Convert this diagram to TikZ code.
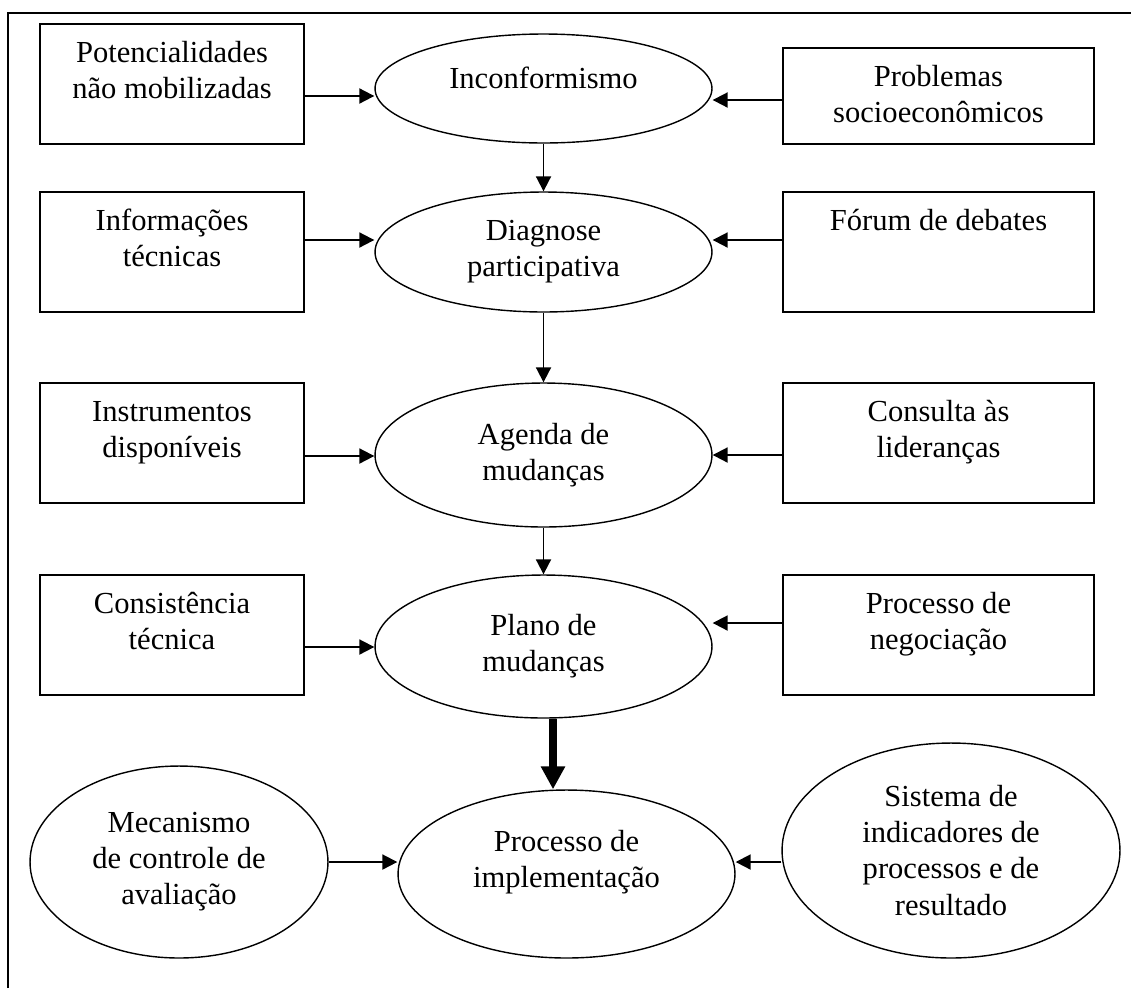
\documentclass[tikz,border=0pt]{standalone}
\usepackage{fontspec}
\setmainfont{Liberation Serif}
\usetikzlibrary{shapes.geometric,arrows.meta}
\newcommand{\caixatxt}[3]{\parbox[c][#1][t]{#2}{\centering\vspace*{7.8pt}\strut #3}}

\begin{document}
\begin{tikzpicture}[x=0.02cm,y=-0.02cm,
    font=\fontsize{17.4}{20.5}\selectfont,
    caixa/.style={draw,rectangle,line width=1.1pt,inner sep=0pt},
    elipse/.style={draw,ellipse,line width=0.8pt,inner sep=0pt,align=center,minimum width=6.74cm,minimum height=#1},
    seta/.style={line width=1.1pt,-{Triangle[length=0.3cm,width=0.3cm]}},
    setagrossa/.style={line width=0.16cm,-{Triangle[length=0.46cm,width=0.46cm]}}]
    \useasboundingbox (0,0) rectangle (1131,988);
    \draw[line width=1.1pt] (8,988) -- (8,13) -- (1131,13);

    \node[elipse=2.18cm,text depth=0.44cm] (inc) at (543.5,88.5) {Inconformismo};
    \node[elipse=2.4cm] (diag) at (543.5,252) {Diagnose\\participativa};
    \node[elipse=2.88cm] (agenda) at (543.5,455) {Agenda de\\mudanças};
    \node[elipse=2.86cm] (plano) at (543.5,646.5) {Plano de\\mudanças};
    \node[elipse=3.36cm,text depth=0.61cm] (impl) at (566.5,874) {Processo de\\implementação};
    \node[elipse=3.84cm,minimum width=5.96cm] (mec) at (179,862) {Mecanismo\\de controle de\\avaliação};
    \node[elipse=4.3cm,minimum width=6.76cm] (sis) at (951,850.5) {Sistema de\\indicadores de\\processos e de\\resultado};

    \node[caixa] (pot) at (172,84) {\caixatxt{2.4cm}{5.28cm}{Potencialidades\\não mobilizadas}};
    \node[caixa] (info) at (172,252) {\caixatxt{2.4cm}{5.28cm}{Informações\\técnicas}};
    \node[caixa] (instr) at (172,443) {\caixatxt{2.4cm}{5.28cm}{Instrumentos\\disponíveis}};
    \node[caixa] (cons) at (172,635) {\caixatxt{2.4cm}{5.28cm}{Consistência\\técnica}};
    \node[caixa] (prob) at (938.5,96) {\caixatxt{1.92cm}{6.22cm}{Problemas\\socioeconômicos}};
    \node[caixa] (forum) at (938.5,252) {\caixatxt{2.4cm}{6.22cm}{Fórum de debates}};
    \node[caixa] (consulta) at (938.5,443) {\caixatxt{2.4cm}{6.22cm}{Consulta às\\lideranças}};
    \node[caixa] (negoc) at (938.5,635) {\caixatxt{2.4cm}{6.22cm}{Processo de\\negociação}};

    \draw[seta] (pot.east |- 0,96) -- (inc.west |- 0,96);
    \draw[seta] (prob.west |- 0,100) -- (inc.east |- 0,100);
    \draw[seta] (info.east |- 0,240) -- (diag.west |- 0,240);
    \draw[seta] (forum.west |- 0,240) -- (diag.east |- 0,240);
    \draw[seta] (instr.east |- 0,456) -- (agenda.west |- 0,456);
    \draw[seta] (consulta.west |- 0,455) -- (agenda.east |- 0,455);
    \draw[seta] (cons.east |- 0,647) -- (plano.west |- 0,647);
    \draw[seta] (negoc.west |- 0,623) -- (plano.east |- 0,623);
    \draw[seta] (inc) -- (diag);
    \draw[seta] (diag) -- (agenda);
    \draw[seta] (agenda) -- (plano);
    \draw[setagrossa] (plano.south -| 553,0) -- (impl.north -| 553,0);
    \draw[seta] (mec.east) -- (impl.west |- mec.east);
    \draw[seta] (sis.west |- 0,862) -- (impl.east |- 0,862);
\end{tikzpicture}
\end{document}
